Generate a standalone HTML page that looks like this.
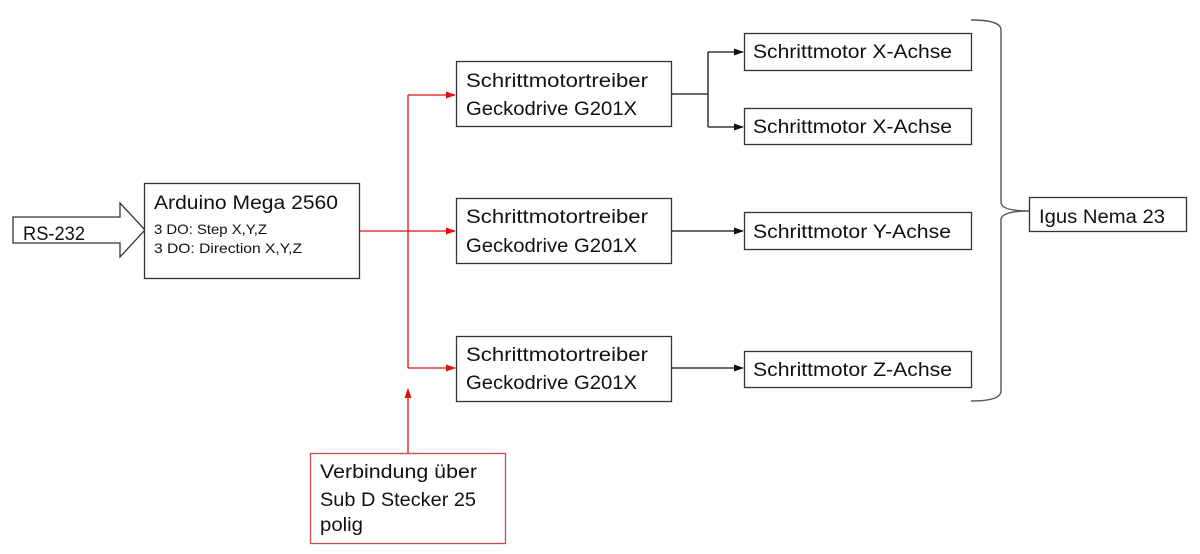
<!DOCTYPE html>
<html><head><meta charset="utf-8"><style>
html,body{margin:0;padding:0;background:#fff;}
svg{display:block;}
text{font-family:"Liberation Sans",sans-serif;fill:#111;}
</style></head><body>
<svg width="1200" height="554" viewBox="0 0 1200 554" xmlns="http://www.w3.org/2000/svg">
<defs>
<marker id="ar" markerWidth="10" markerHeight="8" refX="9" refY="4" orient="auto" markerUnits="userSpaceOnUse"><path d="M0,0.5 L10,4 L0,7.5 z" fill="#e01010"/></marker>
<marker id="ab" markerWidth="10" markerHeight="8" refX="9" refY="4" orient="auto" markerUnits="userSpaceOnUse"><path d="M0,0.5 L10,4 L0,7.5 z" fill="#111"/></marker>
</defs>

<!-- RS-232 arrow -->
<polygon points="13,217 120,217 120,203 145,230 120,257 120,243 13,243" fill="#fff" stroke="#333" stroke-width="1.3"/>
<text x="23" y="240" font-size="19" textLength="62" lengthAdjust="spacingAndGlyphs">RS-232</text>

<!-- Arduino -->
<rect x="144.5" y="183.5" width="215" height="95" fill="#fff" stroke="#333" stroke-width="1.3"/>
<text x="154" y="209" font-size="19" textLength="184" lengthAdjust="spacingAndGlyphs">Arduino Mega 2560</text>
<text x="154" y="234" font-size="14" textLength="113" lengthAdjust="spacingAndGlyphs">3 DO: Step X,Y,Z</text>
<text x="154" y="253" font-size="14" textLength="148" lengthAdjust="spacingAndGlyphs">3 DO: Direction X,Y,Z</text>

<!-- red connectors -->
<g stroke="#e01010" stroke-width="1.3" fill="none">
<line x1="360" y1="231" x2="408" y2="231"/>
<line x1="408" y1="95" x2="408" y2="368"/>
<line x1="408" y1="95" x2="455" y2="95" marker-end="url(#ar)"/>
<line x1="408" y1="231" x2="455" y2="231" marker-end="url(#ar)"/>
<line x1="408" y1="368" x2="455" y2="368" marker-end="url(#ar)"/>
<line x1="408" y1="453" x2="408" y2="389" marker-end="url(#ar)"/>
</g>

<!-- Drivers -->
<g fill="#fff" stroke="#333" stroke-width="1.3">
<rect x="456.5" y="61.5" width="215" height="65"/>
<rect x="456.5" y="198.5" width="215" height="65"/>
<rect x="456.5" y="336.5" width="215" height="65"/>
</g>
<g font-size="19">
<text x="466" y="87" textLength="182" lengthAdjust="spacingAndGlyphs">Schrittmotortreiber</text>
<text x="466" y="115" textLength="171" lengthAdjust="spacingAndGlyphs">Geckodrive G201X</text>
<text x="466" y="223" textLength="182" lengthAdjust="spacingAndGlyphs">Schrittmotortreiber</text>
<text x="466" y="252" textLength="171" lengthAdjust="spacingAndGlyphs">Geckodrive G201X</text>
<text x="466" y="361" textLength="182" lengthAdjust="spacingAndGlyphs">Schrittmotortreiber</text>
<text x="466" y="389" textLength="171" lengthAdjust="spacingAndGlyphs">Geckodrive G201X</text>
</g>

<!-- black connectors -->
<g stroke="#111" stroke-width="1.3" fill="none">
<line x1="672" y1="94" x2="708" y2="94"/>
<line x1="708" y1="52" x2="708" y2="127"/>
<line x1="708" y1="52" x2="743" y2="52" marker-end="url(#ab)"/>
<line x1="708" y1="127" x2="743" y2="127" marker-end="url(#ab)"/>
<line x1="672" y1="231" x2="743" y2="231" marker-end="url(#ab)"/>
<line x1="672" y1="368" x2="743" y2="368" marker-end="url(#ab)"/>
</g>

<!-- Motors -->
<g fill="#fff" stroke="#333" stroke-width="1.3">
<rect x="744.5" y="33.5" width="227" height="37"/>
<rect x="744.5" y="108.5" width="227" height="36"/>
<rect x="744.5" y="212.5" width="227" height="37"/>
<rect x="744.5" y="351.5" width="227" height="36"/>
</g>
<g font-size="19">
<text x="753" y="58" textLength="199" lengthAdjust="spacingAndGlyphs">Schrittmotor X-Achse</text>
<text x="753" y="133" textLength="199" lengthAdjust="spacingAndGlyphs">Schrittmotor X-Achse</text>
<text x="753" y="238" textLength="198" lengthAdjust="spacingAndGlyphs">Schrittmotor Y-Achse</text>
<text x="753" y="376" textLength="199" lengthAdjust="spacingAndGlyphs">Schrittmotor Z-Achse</text>
</g>

<!-- Brace -->
<path d="M971,20 Q1001,20 1001,30 L1001,202 Q1001,211 1029,211 Q1001,211 1001,220 L1001,391 Q1001,401 971,401" fill="none" stroke="#555" stroke-width="1.4"/>

<!-- Igus -->
<rect x="1029.5" y="197.5" width="157" height="34" fill="#fff" stroke="#333" stroke-width="1.3"/>
<text x="1039" y="223" font-size="19" textLength="126" lengthAdjust="spacingAndGlyphs">Igus Nema 23</text>

<!-- Verbindung -->
<rect x="310.5" y="453.5" width="195" height="90" fill="#fff" stroke="#c0504d" stroke-width="1.3"/>
<g font-size="19">
<text x="320" y="478" textLength="157" lengthAdjust="spacingAndGlyphs">Verbindung über</text>
<text x="320" y="506" textLength="156" lengthAdjust="spacingAndGlyphs">Sub D Stecker 25</text>
<text x="320" y="531" textLength="43" lengthAdjust="spacingAndGlyphs">polig</text>
</g>
</svg>
</body></html>
